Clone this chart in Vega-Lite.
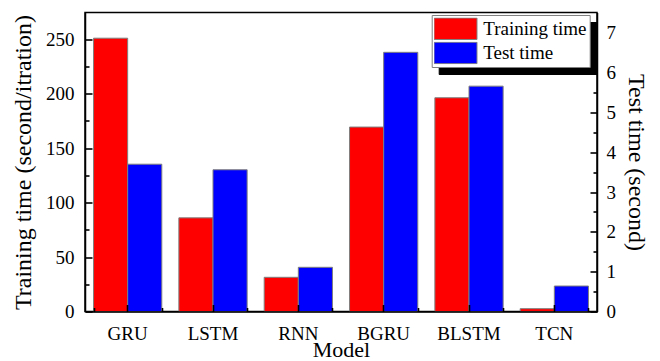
{
  "$schema": "https://vega.github.io/schema/vega-lite/v6.json",
  "width": 512,
  "height": 299,
  "autosize": {"type": "none"},
  "padding": {"left": 85, "top": 12.5, "right": 63, "bottom": 49.5},
  "background": "white",
  "datasets": {
    "times": [
      {"model": "GRU", "series": "Training time", "value": 251},
      {"model": "GRU", "series": "Test time", "value": 3.7},
      {"model": "LSTM", "series": "Training time", "value": 86},
      {"model": "LSTM", "series": "Test time", "value": 3.56},
      {"model": "RNN", "series": "Training time", "value": 31.4},
      {"model": "RNN", "series": "Test time", "value": 1.11},
      {"model": "BGRU", "series": "Training time", "value": 169.4},
      {"model": "BGRU", "series": "Test time", "value": 6.51},
      {"model": "BLSTM", "series": "Training time", "value": 196.3},
      {"model": "BLSTM", "series": "Test time", "value": 5.66},
      {"model": "TCN", "series": "Training time", "value": 2.6},
      {"model": "TCN", "series": "Test time", "value": 0.64}
    ]
  },
  "data": {"name": "times"},
  "config": {
    "font": "Liberation Serif",
    "view": {"stroke": "black", "strokeWidth": 1.5},
    "axis": {
      "grid": false,
      "domainColor": "black",
      "domainWidth": 1.5,
      "tickColor": "black",
      "tickWidth": 1.6,
      "labelColor": "black",
      "titleColor": "black",
      "labelFont": "Liberation Serif",
      "titleFont": "Liberation Serif",
      "titleFontWeight": "normal",
      "labelFontSize": 19,
      "titleFontSize": 24
    }
  },
  "encoding": {
    "x": {
      "field": "model",
      "type": "nominal",
      "sort": ["GRU", "LSTM", "RNN", "BGRU", "BLSTM", "TCN"],
      "scale": {"paddingInner": 0.2, "paddingOuter": 0.1}
    },
    "xOffset": {
      "field": "series",
      "type": "nominal",
      "sort": ["Training time", "Test time"],
      "scale": {"paddingInner": 0, "paddingOuter": 0}
    },
    "fill": {
      "field": "series",
      "type": "nominal",
      "scale": {"domain": ["Training time", "Test time"], "range": ["#ff0000", "#0000ff"]},
      "legend": {
        "title": null,
        "orient": "none",
        "legendX": 346.7,
        "legendY": 2.5,
        "zindex": 3,
        "fillColor": "white",
        "strokeColor": "#808080",
        "padding": 2.5,
        "cornerRadius": 0,
        "clipHeight": 22.5,
        "symbolType": "M-2,-1H2V1H-2Z",
        "symbolSize": 462,
        "symbolOffset": 9.8,
        "symbolStrokeColor": "#808080",
        "symbolStrokeWidth": 1,
        "symbolOpacity": 1,
        "labelFont": "Liberation Serif",
        "labelFontSize": 19,
        "labelColor": "black",
        "labelOffset": 16.2,
        "rowPadding": 1.2
      }
    }
  },
  "layer": [
    {
      "transform": [{"filter": "datum.series === 'Training time'"}],
      "layer": [
        {
          "mark": {"type": "bar", "stroke": "#7f7f7f", "strokeWidth": 1},
          "encoding": {
            "y": {
              "field": "value",
              "type": "quantitative",
              "scale": {"domain": [0, 274.6], "nice": false, "zero": true},
              "axis": {
                "orient": "left",
                "zindex": 1,
                "title": "Training time (second/itration)",
                "values": [0, 50, 100, 150, 200, 250],
                "ticks": false,
                "labelPadding": 11,
                "titlePadding": 10
              }
            },
            "x": {
              "field": "model",
              "type": "nominal",
              "sort": ["GRU", "LSTM", "RNN", "BGRU", "BLSTM", "TCN"],
              "axis": {
                "orient": "bottom",
                "zindex": 1,
                "title": "Model",
                "titleFontSize": 22,
                "labelAngle": 0,
                "ticks": false,
                "labelPadding": 13,
                "titlePadding": -4
              }
            },
            "opacity": {
              "field": "series",
              "type": "nominal",
              "scale": {"domain": ["Test time", "Training time"], "range": [1, 1]},
              "legend": {
                "title": null,
                "orient": "none",
                "legendX": 353.7,
                "legendY": 9.5,
                "zindex": 2,
                "fillColor": "black",
                "strokeColor": "black",
                "padding": 2.5,
                "cornerRadius": 0,
                "clipHeight": 22.5,
                "symbolType": "M-2,-1H2V1H-2Z",
                "symbolSize": 462,
                "symbolOffset": 9.8,
                "symbolFillColor": "black",
                "symbolStrokeColor": "black",
                "symbolStrokeWidth": 1,
                "labelFont": "Liberation Serif",
                "labelFontSize": 19,
                "labelColor": "black",
                "labelOffset": 16.2,
                "rowPadding": 1.2
              }
            }
          }
        },
        {
          "mark": {"type": "bar", "opacity": 0},
          "encoding": {
            "y": {
              "field": "value",
              "type": "quantitative",
              "axis": {
                "orient": "left",
                "zindex": 1,
                "title": null,
                "labels": false,
                "domain": false,
                "values": [0, 50, 100, 150, 200, 250],
                "offset": -7,
                "tickSize": 7
              }
            },
            "x": {
              "field": "model",
              "type": "nominal",
              "sort": ["GRU", "LSTM", "RNN", "BGRU", "BLSTM", "TCN"],
              "axis": {
                "orient": "bottom",
                "zindex": 1,
                "title": null,
                "labels": false,
                "domain": false,
                "offset": -7,
                "tickSize": 7
              }
            }
          }
        },
        {
          "mark": {"type": "bar", "opacity": 0},
          "encoding": {
            "y": {
              "field": "value",
              "type": "quantitative",
              "axis": {
                "orient": "left",
                "zindex": 1,
                "title": null,
                "labels": false,
                "domain": false,
                "values": [25, 75, 125, 175, 225],
                "offset": -4,
                "tickSize": 4
              }
            },
            "x": {
              "field": "model",
              "type": "nominal",
              "sort": ["GRU", "LSTM", "RNN", "BGRU", "BLSTM", "TCN"],
              "axis": {
                "orient": "bottom",
                "zindex": 1,
                "title": null,
                "labels": false,
                "domain": false,
                "tickBand": "extent",
                "offset": -4,
                "tickSize": 4
              }
            }
          }
        }
      ],
      "resolve": {"axis": {"y": "independent", "x": "independent"}}
    },
    {
      "transform": [{"filter": "datum.series === 'Test time'"}],
      "layer": [
        {
          "mark": {"type": "bar", "stroke": "#7f7f7f", "strokeWidth": 1},
          "encoding": {
            "y": {
              "field": "value",
              "type": "quantitative",
              "scale": {"domain": [0, 7.51], "nice": false, "zero": true},
              "axis": {
                "orient": "right",
                "zindex": 1,
                "title": "Test time (second)",
                "values": [0, 1, 2, 3, 4, 5, 6, 7],
                "ticks": false,
                "labelPadding": 9,
                "titlePadding": 8
              }
            },
            "x": {
              "field": "model",
              "type": "nominal",
              "sort": ["GRU", "LSTM", "RNN", "BGRU", "BLSTM", "TCN"],
              "axis": null
            }
          }
        },
        {
          "mark": {"type": "bar", "opacity": 0},
          "encoding": {
            "y": {
              "field": "value",
              "type": "quantitative",
              "axis": {
                "orient": "right",
                "zindex": 1,
                "title": null,
                "labels": false,
                "domain": false,
                "values": [0, 1, 2, 3, 4, 5, 6, 7],
                "offset": -7,
                "tickSize": 7
              }
            },
            "x": {
              "field": "model",
              "type": "nominal",
              "sort": ["GRU", "LSTM", "RNN", "BGRU", "BLSTM", "TCN"],
              "axis": null
            }
          }
        },
        {
          "mark": {"type": "bar", "opacity": 0},
          "encoding": {
            "y": {
              "field": "value",
              "type": "quantitative",
              "axis": {
                "orient": "right",
                "zindex": 1,
                "title": null,
                "labels": false,
                "domain": false,
                "values": [0.5, 1.5, 2.5, 3.5, 4.5, 5.5, 6.5],
                "offset": -4,
                "tickSize": 4
              }
            },
            "x": {
              "field": "model",
              "type": "nominal",
              "sort": ["GRU", "LSTM", "RNN", "BGRU", "BLSTM", "TCN"],
              "axis": null
            }
          }
        }
      ],
      "resolve": {"axis": {"y": "independent"}}
    }
  ],
  "resolve": {"scale": {"y": "independent"}, "axis": {"x": "independent"}}
}
